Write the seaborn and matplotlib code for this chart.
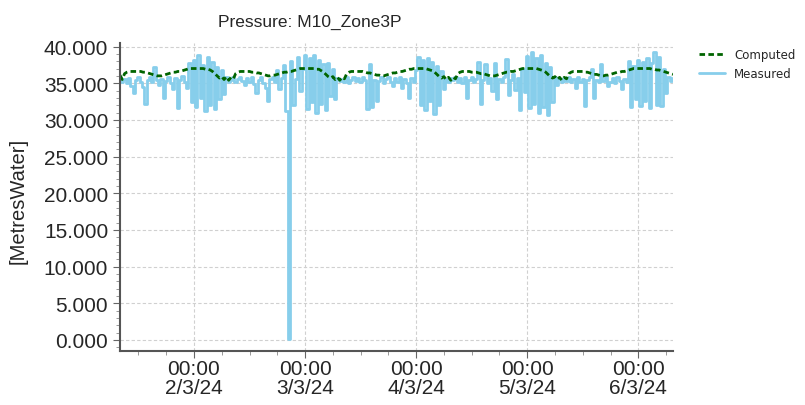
import pandas as pd
import numpy as np
import seaborn as sns
import matplotlib.pyplot as plt
import matplotlib.dates as mdates
from matplotlib.ticker import AutoMinorLocator, FuncFormatter
from matplotlib.lines import Line2D

# Measured pressure, 30 minute readings, one list per day starting 08:00
meas_day1 = [35.9, 35.2, 35.6, 35.0, 35.7, 34.6, 33.6, 35.4, 35.8, 35.1, 34.5, 32.2,
             35.5, 35.9, 35.2, 37.2, 35.4, 34.8, 35.6, 33.0, 35.3, 35.8, 35.0, 34.2,
             35.7, 31.6, 35.4, 36.0, 35.1, 34.3, 37.8, 32.5, 38.2, 31.8, 38.9, 33.0,
             37.5, 31.2, 38.6, 32.0, 37.9, 31.5, 37.2, 32.8, 36.8, 33.5, 35.8, 35.2]
meas_day2 = [35.4, 35.8, 35.1, 35.6, 35.9, 35.3, 34.7, 35.7, 35.2, 35.9, 34.9, 33.6,
             35.5, 35.8, 35.0, 34.4, 32.6, 35.6, 35.9, 35.1, 36.8, 34.2, 35.7, 37.5,
             31.2, 0.2, 38.0, 32.0, 35.6, 38.6, 34.0, 36.9, 38.8, 31.5, 38.4, 32.4,
             38.9, 31.0, 38.1, 32.2, 37.6, 31.4, 37.8, 33.2, 36.9, 32.9, 35.7, 35.3]
meas_day3 = [35.6, 35.2, 35.8, 35.0, 35.5, 35.9, 35.3, 35.7, 35.1, 35.8, 35.4, 31.5,
             37.6, 31.8, 35.5, 32.6, 35.3, 35.8, 35.0, 35.6, 35.9, 35.2, 34.6, 35.7,
             35.1, 35.9, 34.3, 35.6, 35.0, 33.0, 35.7, 35.2, 36.8, 38.6, 32.0, 38.2,
             31.4, 38.5, 32.6, 37.9, 30.8, 37.4, 32.0, 36.6, 34.2, 35.6, 35.1, 35.7]
meas_day4 = [35.4, 35.9, 35.2, 35.7, 35.0, 35.8, 33.0, 35.5, 35.9, 35.1, 35.6, 37.9,
             32.2, 35.4, 37.6, 35.0, 35.7, 34.0, 37.7, 32.9, 35.6, 35.1, 35.8, 38.3,
             33.4, 35.5, 36.2, 34.1, 35.7, 31.4, 36.9, 33.8, 38.7, 31.6, 39.3, 32.1,
             38.4, 30.9, 38.9, 31.8, 37.8, 30.6, 37.2, 32.4, 35.9, 34.8, 35.6, 35.2]
meas_day5 = [35.7, 35.3, 35.8, 35.1, 35.6, 34.4, 35.9, 35.2, 35.6, 31.9, 35.4, 35.8,
             36.9, 33.0, 35.5, 35.1, 37.6, 35.3, 35.8, 34.6, 35.2, 35.7, 35.0, 35.9,
             35.3, 34.2, 35.6, 35.1, 38.0, 31.8, 37.4, 32.8, 38.2, 31.9, 37.9, 32.6,
             38.5, 31.6, 37.7, 39.3, 32.0, 38.6, 31.9, 37.0, 33.6, 35.8, 35.3, 35.7]

# Computed pressure, same 30 minute steps
comp_day1 = [36.1, 35.5, 36.3, 36.5, 36.6, 36.6, 36.6, 36.6, 36.6, 36.6, 36.5, 36.5,
             36.4, 36.3, 36.2, 36.1, 36.0, 36.0, 36.0, 36.1, 36.2, 36.3, 36.4, 36.5,
             36.5, 36.6, 36.6, 36.7, 36.8, 36.9, 37.0, 37.0, 37.0, 37.0, 37.0, 37.0,
             37.0, 36.9, 36.9, 36.8, 36.6, 36.3, 36.0, 35.7, 35.9, 35.5, 35.9, 35.4]
comp_day2 = [35.8, 35.6, 36.3, 36.5, 36.6, 36.6, 36.6, 36.6, 36.6, 36.5, 36.5, 36.4,
             36.4, 36.3, 36.2, 36.1, 36.0, 36.0, 36.1, 36.1, 36.2, 36.3, 36.4, 36.5,
             36.5, 36.6, 36.6, 36.7, 36.8, 36.9, 37.0, 37.0, 37.0, 37.0, 37.0, 37.0,
             37.0, 36.9, 36.9, 36.7, 36.5, 36.2, 35.9, 35.7, 35.9, 35.5, 35.8, 35.4]
comp_day3 = [35.8, 35.6, 36.3, 36.5, 36.6, 36.6, 36.6, 36.6, 36.6, 36.6, 36.5, 36.4,
             36.4, 36.3, 36.2, 36.1, 36.1, 36.0, 36.0, 36.1, 36.2, 36.3, 36.4, 36.4,
             36.5, 36.6, 36.6, 36.7, 36.8, 36.9, 36.9, 37.0, 37.0, 37.0, 37.0, 37.0,
             37.0, 36.9, 36.8, 36.7, 36.5, 36.2, 35.9, 35.7, 35.9, 35.5, 35.8, 35.4]
comp_day4 = [35.8, 35.6, 36.3, 36.5, 36.6, 36.6, 36.6, 36.6, 36.5, 36.5, 36.5, 36.4,
             36.3, 36.3, 36.2, 36.1, 36.0, 36.0, 36.0, 36.1, 36.2, 36.3, 36.4, 36.5,
             36.5, 36.6, 36.6, 36.7, 36.8, 36.9, 37.0, 37.0, 37.0, 37.0, 37.0, 37.0,
             37.0, 36.9, 36.8, 36.7, 36.5, 36.2, 35.9, 35.7, 35.9, 35.5, 35.8, 35.4]
comp_day5 = [35.8, 35.6, 36.3, 36.5, 36.6, 36.6, 36.6, 36.6, 36.6, 36.5, 36.5, 36.4,
             36.3, 36.2, 36.2, 36.1, 36.0, 36.0, 36.1, 36.1, 36.2, 36.3, 36.4, 36.5,
             36.5, 36.6, 36.6, 36.7, 36.8, 36.9, 37.0, 37.0, 37.0, 37.0, 37.0, 37.0,
             37.0, 37.0, 36.9, 36.9, 36.8, 36.8, 36.7, 36.6, 36.5, 36.4, 36.3, 36.2]

measured = meas_day1 + meas_day2 + meas_day3 + meas_day4 + meas_day5
computed = comp_day1 + comp_day2 + comp_day3 + comp_day4 + comp_day5
times = pd.date_range('2024-03-01 08:00', periods=len(measured), freq='30min')

df = pd.DataFrame({'time': times, 'Measured': measured, 'Computed': computed})

sns.set_style('white')
plt.rcParams['font.family'] = ['Liberation Sans', 'DejaVu Sans']

fig = plt.figure(figsize=(8.05, 4.06), dpi=100)
ax = fig.add_axes([0.149, 0.133, 0.687, 0.759])

# measured drawn as steps so it looks like the blocky logger trace
sns.lineplot(data=df, x='time', y='Measured', color='#87CEEB', linewidth=2,
             drawstyle='steps-mid', ax=ax)
sns.lineplot(data=df, x='time', y='Computed', color='#006400', linewidth=2,
             linestyle=(0, (2, 1.2)), ax=ax)

ax.set_xlim(pd.Timestamp('2024-03-01 08:00'), pd.Timestamp('2024-03-06 07:30'))
ax.set_ylim(-1.5, 40.5)
ax.set_yticks(np.arange(0, 41, 5))
ax.yaxis.set_major_formatter(FuncFormatter(lambda v, p: '%.3f' % v))
ax.yaxis.set_minor_locator(AutoMinorLocator(5))

ax.xaxis.set_major_locator(mdates.DayLocator())
ax.xaxis.set_minor_locator(mdates.HourLocator(byhour=[6, 12, 18]))
ax.xaxis.set_major_formatter(FuncFormatter(
    lambda v, p: '00:00\n%d/%d/%s' % (mdates.num2date(v).day, mdates.num2date(v).month,
                                       mdates.num2date(v).strftime('%y'))))

ax.grid(True, which='major', linestyle=(0, (3, 2)), color='#d0d0d0', linewidth=0.8)
ax.tick_params(axis='both', which='major', labelsize=15, length=5, color='#666666',
               direction='out', left=True, bottom=True)
ax.tick_params(axis='x', which='major', pad=1)
ax.tick_params(axis='both', which='minor', length=3, color='#888888',
               direction='out', left=True, bottom=True)
for lbl in ax.get_xticklabels():
    lbl.set_linespacing(1.0)
for s in ['top', 'right']:
    ax.spines[s].set_visible(False)
for s in ['left', 'bottom']:
    ax.spines[s].set_color('#555555')
    ax.spines[s].set_linewidth(1.5)
ax.set_xlabel('')
ax.set_ylabel('')

fig.text(0.022, 0.505, '[MetresWater]', rotation=90, ha='center', va='center', fontsize=14.5)
fig.text(0.385, 0.945, 'Pressure: M10_Zone3P', ha='center', va='center', fontsize=12.5)

handles = [Line2D([], [], color='#006400', linewidth=2, linestyle=(0, (2, 1.2))),
           Line2D([], [], color='#87CEEB', linewidth=2)]
fig.legend(handles, ['Computed', 'Measured'], loc='upper left', bbox_to_anchor=(0.855, 0.905),
           frameon=False, handlelength=2.2, labelspacing=0.5,
           prop={'family': 'DejaVu Sans', 'size': 8.5})

fig.savefig('out.png', dpi=100)
